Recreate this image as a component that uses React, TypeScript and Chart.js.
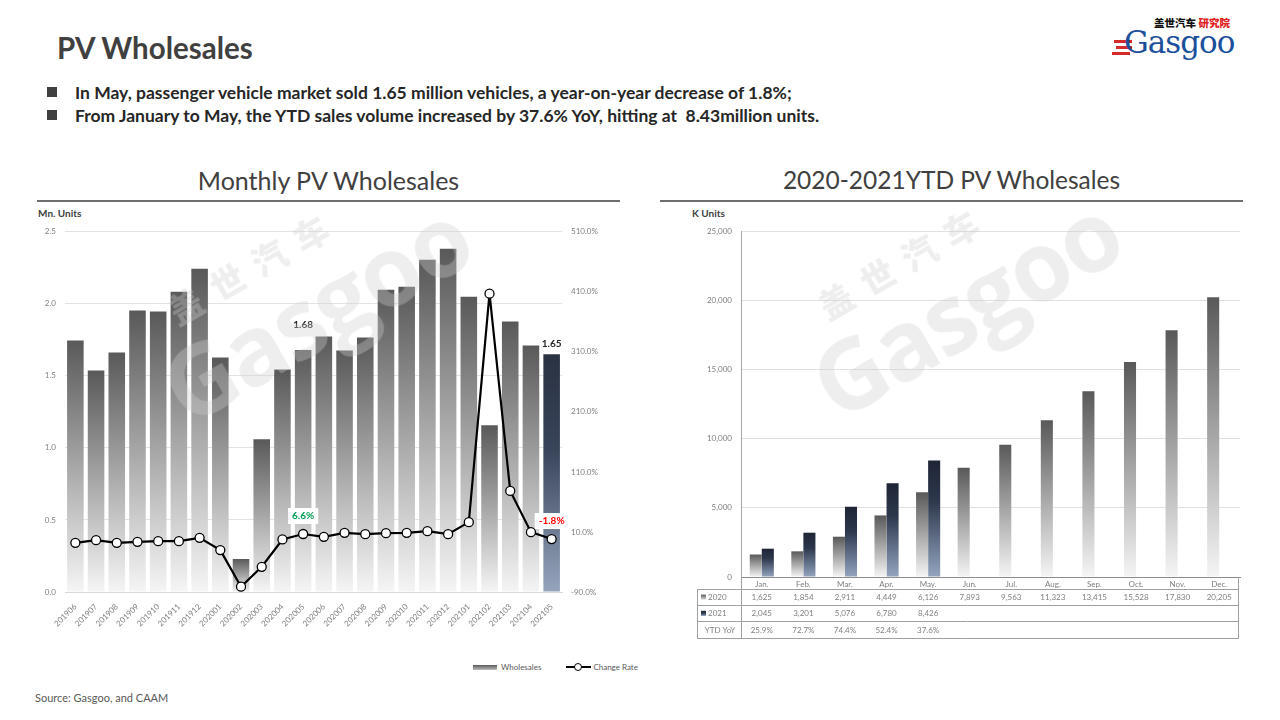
import React, { useEffect, useRef } from "react";
import { Chart, registerables } from "chart.js";
Chart.register(...registerables);

const FONT = "Lato, 'Open Sans', sans-serif";

const months = ["201906","201907","201908","201909","201910","201911","201912","202001","202002","202003","202004","202005","202006","202007","202008","202009","202010","202011","202012","202101","202102","202103","202104","202105"];
const wholesales = [1.745,1.537,1.662,1.953,1.946,2.084,2.244,1.627,0.229,1.06,1.544,1.68,1.773,1.676,1.766,2.098,2.119,2.306,2.382,2.05,1.157,1.877,1.71,1.65];
const changeRate = [-8.1,-3.6,-8.1,-6.4,-5.3,-5.3,0.2,-20.2,-81.2,-48,-2.5,6.6,1.9,8.5,6.3,8,8.5,11.3,6.3,26.3,407,78.3,9.7,-1.8];
const labeledIdx = [11, 23];

const ytdMonths = ["Jan.","Feb.","Mar.","Apr.","May.","Jun.","Jul.","Aug.","Sep.","Oct.","Nov.","Dec."];
const ytd2020 = [1625,1854,2911,4449,6126,7893,9563,11323,13415,15528,17830,20205];
const ytd2021 = [2045,3201,5076,6780,8426];
const ytdYoY = [25.9,72.7,74.4,52.4,37.6];

const GRAY_TOP = "#595959";
const GRAY_BOTTOM = "#f5f5f5";

function grad(ctx: CanvasRenderingContext2D, top: number, bottom: number, stops: [number, string][]) {
  const g = ctx.createLinearGradient(0, top, 0, bottom);
  stops.forEach(([p, c]) => g.addColorStop(p, c));
  return g;
}
const grayStops: [number, string][] = [[0, GRAY_TOP], [1, GRAY_BOTTOM]];
const navyStops: [number, string][] = [[0, "#1f2535"], [0.35, "#2d384d"], [1, "#94a5c0"]];

function barFill(yKey: string, stopsFor: (i: number) => [number, string][]) {
  return (c: any) => {
    const chart = c.chart;
    const ys = chart.scales && chart.scales[yKey];
    if (!ys || c.type !== "data" || c.raw == null) return "#888";
    const top = ys.getPixelForValue(c.raw);
    const base = ys.getPixelForValue(0);
    if (!isFinite(top) || !isFinite(base) || top === base) return "#888";
    return grad(chart.ctx, top, base, stopsFor(c.dataIndex));
  };
}

function MonthlyChart() {
  const ref = useRef<HTMLCanvasElement>(null);
  useEffect(() => {
    const labelsPlugin = {
      id: "monthlyLabels",
      afterDatasetsDraw(chart: any) {
        const ctx = chart.ctx as CanvasRenderingContext2D;
        const barMeta = chart.getDatasetMeta(0);
        const lineMeta = chart.getDatasetMeta(1);
        ctx.save();
        labeledIdx.forEach((i, k) => {
          const b = barMeta.data[i];
          ctx.font = `bold 10px ${FONT}`;
          ctx.fillStyle = "#262626";
          ctx.textAlign = "center";
          ctx.textBaseline = "middle";
          const off = k === 0 ? 25 : 10;
          ctx.fillText(wholesales[i].toFixed(2), b.x, b.y - off);
          const p = lineMeta.data[i];
          const v = changeRate[i];
          const txt = v.toFixed(1) + "%";
          const w = ctx.measureText(txt).width + 8;
          const cy = p.y - 18;
          const cx = p.x;
          ctx.fillStyle = "#ffffff";
          ctx.fillRect(cx - w / 2, cy - 8, w, 16);
          ctx.fillStyle = v >= 0 ? "#00a050" : "#ff0000";
          ctx.fillText(txt, cx, cy);
        });
        ctx.restore();
      },
    };
    const chart = new Chart(ref.current as HTMLCanvasElement, {
      type: "bar",
      data: {
        labels: months,
        datasets: [
          {
            type: "bar",
            label: "Wholesales",
            data: wholesales,
            yAxisID: "y",
            order: 1,
            categoryPercentage: 1,
            barPercentage: 0.8,
            backgroundColor: barFill("y", (i) => (i === months.length - 1 ? [[0, "#2a3242"], [0.4, "#38445a"], [1, "#96a5bd"]] : grayStops)),
          } as any,
          {
            type: "line",
            label: "Change Rate",
            data: changeRate,
            yAxisID: "y1",
            order: 0,
            borderColor: "#000000",
            borderWidth: 2.2,
            pointRadius: 4.5,
            pointBackgroundColor: "#ffffff",
            pointBorderColor: "#000000",
            pointBorderWidth: 1.3,
            tension: 0,
          } as any,
        ],
      },
      options: {
        responsive: false,
        animation: false,
        devicePixelRatio: 1,
        layout: { padding: { top: 5, left: 0, right: 0, bottom: 0 } },
        plugins: { legend: { display: false }, tooltip: { enabled: false } },
        scales: {
          x: {
            grid: { display: false },
            border: { display: true, color: "#d9d9d9" },
            ticks: { minRotation: 45, maxRotation: 45, autoSkip: false, font: { size: 8, family: FONT }, color: "#7f7f7f", padding: 2 },
            afterFit(s: any) { s.height = 60; },
          },
          y: {
            position: "left",
            min: 0,
            max: 2.5,
            ticks: { stepSize: 0.5, callback: (v: any) => Number(v).toFixed(1), font: { size: 8, family: FONT }, color: "#7f7f7f", padding: 9 },
            grid: { color: "#e3e3e3", drawTicks: false },
            border: { display: false },
            afterFit(s: any) { s.width = 35; },
          },
          y1: {
            position: "right",
            min: -90,
            max: 510,
            ticks: { stepSize: 100, callback: (v: any) => Number(v).toFixed(1) + "%", font: { size: 8, family: FONT }, color: "#7f7f7f", padding: 9 },
            grid: { display: false, drawTicks: false },
            border: { display: false },
            afterFit(s: any) { s.width = 78; },
          },
        },
      } as any,
      plugins: [labelsPlugin],
    });
    return () => chart.destroy();
  }, []);
  return <canvas ref={ref} width={610} height={434} style={{ position: "absolute", left: 30, top: 218, width: 610, height: 434 }} />;
}

function YtdChart() {
  const ref = useRef<HTMLCanvasElement>(null);
  useEffect(() => {
    const tablePlugin = {
      id: "ytdTable",
      afterDraw(chart: any) {
        const ctx = chart.ctx as CanvasRenderingContext2D;
        const xs = chart.scales.x;
        const a = chart.chartArea;
        const L = 7;
        const R = a.right - 2;
        const r0 = a.bottom;
        const r1 = a.bottom + 12;
        const rh = 16.2;
        const rows = [r1, r1 + rh, r1 + 2 * rh, r1 + 3 * rh];
        ctx.save();
        ctx.strokeStyle = "#a0a0a0";
        ctx.lineWidth = 1;
        ctx.beginPath();
        rows.forEach((y) => { ctx.moveTo(L, Math.round(y) + 0.5); ctx.lineTo(R, Math.round(y) + 0.5); });
        ctx.moveTo(L + 0.5, Math.round(r1)); ctx.lineTo(L + 0.5, Math.round(rows[3]) + 1);
        ctx.moveTo(Math.round(a.left) + 0.5, r0); ctx.lineTo(Math.round(a.left) + 0.5, Math.round(rows[3]) + 1);
        ctx.moveTo(Math.round(R) + 0.5, r0); ctx.lineTo(Math.round(R) + 0.5, Math.round(rows[3]) + 1);
        ctx.stroke();
        ctx.font = `8px ${FONT}`;
        ctx.fillStyle = "#7f7f7f";
        ctx.textAlign = "center";
        ctx.textBaseline = "middle";
        ytdMonths.forEach((m, i) => ctx.fillText(m, xs.getPixelForValue(i), (r0 + r1) / 2 + 1.5));
        const mid = (k: number) => rows[k] + rh / 2 + 0.5;
        ytd2020.forEach((v, i) => ctx.fillText(v.toLocaleString("en-US"), xs.getPixelForValue(i), mid(0)));
        ytd2021.forEach((v, i) => ctx.fillText(v.toLocaleString("en-US"), xs.getPixelForValue(i), mid(1)));
        ytdYoY.forEach((v, i) => ctx.fillText(v.toFixed(1) + "%", xs.getPixelForValue(i), mid(2)));
        ctx.textAlign = "left";
        const sw = (y: number, stops: [number, string][]) => {
          ctx.fillStyle = grad(ctx, y - 3, y + 3, stops);
          ctx.fillRect(L + 4, y - 3, 5, 5);
        };
        sw(mid(0), grayStops);
        sw(mid(1), navyStops);
        ctx.fillStyle = "#7f7f7f";
        ctx.fillText("2020", L + 11, mid(0));
        ctx.fillText("2021", L + 11, mid(1));
        ctx.textAlign = "center";
        ctx.fillText("YTD YoY", (L + a.left) / 2 + 1, mid(2));
        ctx.restore();
      },
    };
    const chart = new Chart(ref.current as HTMLCanvasElement, {
      type: "bar",
      data: {
        labels: ytdMonths,
        datasets: [
          {
            label: "2020",
            data: ytd2020,
            categoryPercentage: 0.58,
            barPercentage: 1,
            backgroundColor: barFill("y", () => grayStops),
          } as any,
          {
            label: "2021",
            data: ytd2021,
            categoryPercentage: 0.58,
            barPercentage: 1,
            backgroundColor: barFill("y", () => navyStops),
          } as any,
        ],
      },
      options: {
        responsive: false,
        animation: false,
        devicePixelRatio: 1,
        layout: { padding: { top: 26, left: 0, right: 10, bottom: 73 } },
        plugins: { legend: { display: false }, tooltip: { enabled: false } },
        scales: {
          x: {
            grid: { display: false, drawTicks: false },
            border: { display: true, color: "#8c8c8c" },
            ticks: { display: false },
            afterFit(s: any) { s.height = 0; },
          },
          y: {
            min: 0,
            max: 25000,
            ticks: { stepSize: 5000, callback: (v: any) => Number(v).toLocaleString("en-US"), font: { size: 8, family: FONT }, color: "#7f7f7f", padding: 9 },
            grid: { color: "#e0e0e0", drawTicks: false },
            border: { display: true, color: "#a6a6a6" },
            afterFit(s: any) { s.width = 51; },
          },
        },
      } as any,
      plugins: [tablePlugin],
    });
    return () => chart.destroy();
  }, []);
  return <canvas ref={ref} width={560} height={445} style={{ position: "absolute", left: 690, top: 205, width: 560, height: 445 }} />;
}

function Watermark({ left, top }: { left: number; top: number }) {
  return (
    <div style={{ position: "absolute", left, top, width: 420, height: 200, transform: "rotate(-30deg)", transformOrigin: "center", pointerEvents: "none", zIndex: 5, color: "rgba(205,205,205,0.35)", textAlign: "center" }}>
      <div style={{ fontFamily: "'Noto Sans CJK SC', sans-serif", fontWeight: 900, fontSize: 34, letterSpacing: 14, marginLeft: -60, lineHeight: "40px" }}>盖世汽车</div>
      <div style={{ fontFamily: "'Open Sans', sans-serif", fontWeight: 700, fontSize: 96, lineHeight: "100px", letterSpacing: -2 }}>Gasgoo</div>
    </div>
  );
}

export default function App() {
  const text = "#404040";
  return (
    <div style={{ position: "absolute", left: 0, top: 0, width: 1280, height: 720, background: "#fff", fontFamily: FONT, overflow: "hidden" }}>
      <div style={{ position: "absolute", left: 57, top: 30, fontSize: 29.5, fontWeight: 700, color: text }}>PV Wholesales</div>
      {[
        "In May, passenger vehicle market sold 1.65 million vehicles, a year-on-year decrease of 1.8%;",
        "From January to May, the YTD sales volume increased by 37.6% YoY, hitting at  8.43million units.",
      ].map((t, i) => (
        <div key={i} style={{ position: "absolute", left: 47, top: 82 + i * 23, height: 20, display: "flex", alignItems: "center" }}>
          <div style={{ width: 10, height: 10, background: "#404040" }} />
          <div style={{ marginLeft: 18, fontSize: 17.5, fontWeight: 700, color: "#262626", whiteSpace: "pre" }}>{t}</div>
        </div>
      ))}
      <div style={{ position: "absolute", left: 1112, top: 12, width: 135, height: 46 }}>
        <div style={{ position: "absolute", left: 42, top: 3, fontFamily: "'Noto Sans CJK SC', sans-serif", fontSize: 10.5, fontWeight: 900, color: "#111", whiteSpace: "nowrap" }}>
          盖世汽车 <span style={{ color: "#e02020" }}>研究院</span>
        </div>
        <div style={{ position: "absolute", left: 2, top: 28, width: 18, height: 3, background: "#d42a2a" }} />
        <div style={{ position: "absolute", left: 4, top: 34, width: 16, height: 3, background: "#d42a2a" }} />
        <div style={{ position: "absolute", left: 0, top: 40, width: 18, height: 3, background: "#d42a2a" }} />
        <div style={{ position: "absolute", left: 12, top: 12, fontFamily: "'DejaVu Serif', serif", fontSize: 31, color: "#1c4f9c", letterSpacing: -1, lineHeight: "36px" }}>Gasgoo</div>
      </div>

      <div style={{ position: "absolute", left: 37, top: 165, width: 583, textAlign: "center", fontSize: 25, color: text }}>Monthly PV Wholesales</div>
      <div style={{ position: "absolute", left: 37, top: 200, width: 583, height: 1.5, background: "#6e6e6e" }} />
      <div style={{ position: "absolute", left: 660, top: 165, width: 583, textAlign: "center", fontSize: 24.5, color: text }}>2020-2021YTD PV Wholesales</div>
      <div style={{ position: "absolute", left: 660, top: 200, width: 583, height: 1.5, background: "#6e6e6e" }} />

      <div style={{ position: "absolute", left: 38, top: 207, fontSize: 10, fontWeight: 700, color: text }}>Mn. Units</div>
      <div style={{ position: "absolute", left: 692, top: 207, fontSize: 10, fontWeight: 700, color: text }}>K Units</div>

      <MonthlyChart />
      <YtdChart />

      <div style={{ position: "absolute", left: 473, top: 662, display: "flex", alignItems: "center", fontSize: 8, color: "#595959" }}>
        <div style={{ width: 24, height: 5, background: "linear-gradient(#5a5a5a,#bdbdbd)" }} />
        <div style={{ marginLeft: 4 }}>Wholesales</div>
        <div style={{ marginLeft: 25, width: 25, height: 10, position: "relative" }}>
          <div style={{ position: "absolute", left: 0, top: 4, width: 25, height: 2, background: "#000" }} />
          <div style={{ position: "absolute", left: 8, top: 1, width: 6, height: 6, borderRadius: 5, border: "1.3px solid #000", background: "#fff" }} />
        </div>
        <div style={{ marginLeft: 2 }}>Change Rate</div>
      </div>

      <Watermark left={110} top={220} />
      <Watermark left={760} top={215} />

      <div style={{ position: "absolute", left: 35, top: 691, fontSize: 11, color: "#595959" }}>Source: Gasgoo, and CAAM</div>
    </div>
  );
}
